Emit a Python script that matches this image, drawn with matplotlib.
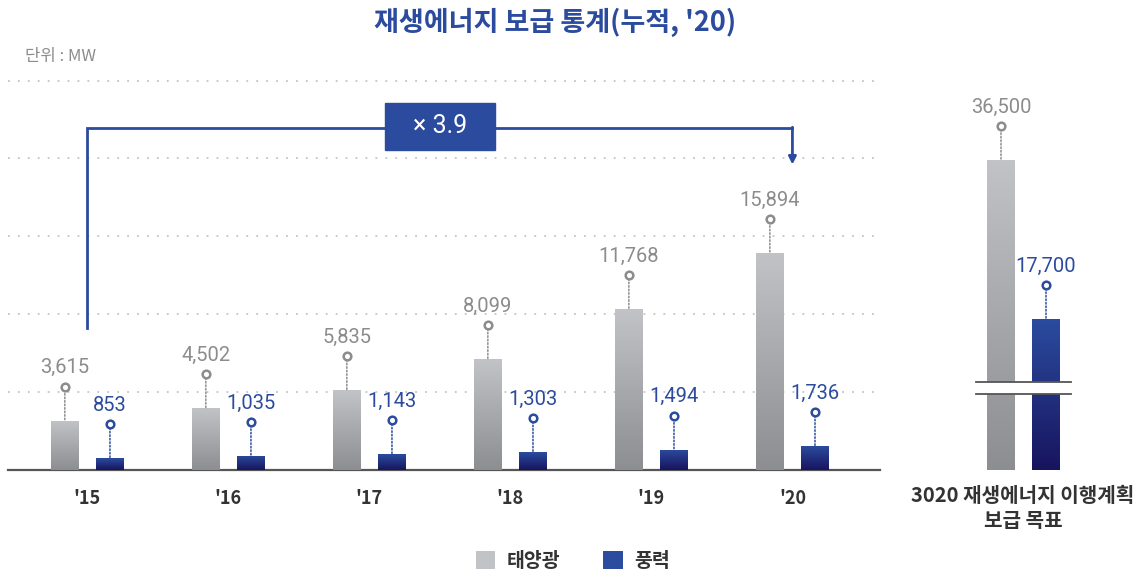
import numpy as np
import matplotlib
matplotlib.use('Agg')
from matplotlib import pyplot as plt
from matplotlib.colors import LinearSegmentedColormap
from matplotlib.patches import Rectangle, PathPatch
import matplotlib.transforms as mtransforms

# data
years = ["'15", "'16", "'17", "'18", "'19", "'20"]
solar = [3615, 4502, 5835, 8099, 11768, 15894]
wind = [853, 1035, 1143, 1303, 1494, 1736]
target_label = '3020 재생에너지 이행계획\n보급 목표'
target_solar = 36500
target_wind = 17700
growth = '× 3.9'
series_names = ['태양광', '풍력']

# style
W, H = 1137, 576
KR = ['Noto Sans CJK KR', 'DejaVu Sans']
NUM = ['Roboto', 'DejaVu Sans']
BLUE = '#2b4b9e'
GRAY_TXT = '#8c8c8c'
GRAY_TOP, GRAY_BOT = '#c2c3c6', '#8d8e91'
BLUE_TOP, BLUE_BOT = '#2b4c9f', '#18145e'

fig = plt.figure(figsize=(W / 100, H / 100), dpi=100)


def px_axes(left, top, right, bottom):
    return fig.add_axes([left / W, 1 - bottom / H, (right - left) / W, (bottom - top) / H])


def grad_fill(ax, bars, c_top, c_bot):
    cmap = LinearSegmentedColormap.from_list('g', [c_bot, c_top])
    grad = np.linspace(0, 1, 256).reshape(-1, 1)
    for b in bars:
        x0, y0 = b.get_xy()
        im = ax.imshow(grad, cmap=cmap, origin='lower', aspect='auto', interpolation='bicubic',
                       extent=[x0, x0 + b.get_width(), y0, y0 + b.get_height()], zorder=3)
        # path clip keeps the axes clip box as well
        im.set_clip_path(PathPatch(b.get_path(), transform=b.get_transform()))


def value_label(ax, x, y, color):
    ax.annotate('', xy=(x, y), xytext=(0, 24.5), textcoords='offset points',
                arrowprops=dict(arrowstyle='-', linestyle=(0, (1, 1.3)), color=color, lw=1.1,
                                shrinkA=0, shrinkB=0), annotation_clip=False)
    t_circ = mtransforms.offset_copy(ax.transData, fig=fig, y=24.5, units='points')
    ax.plot([x], [y], 'o', transform=t_circ, mfc='white', mec=color, ms=5.5, mew=1.8,
            clip_on=False, zorder=5)
    t_txt = mtransforms.offset_copy(ax.transData, fig=fig, y=38, units='points')
    ax.text(x, y, f'{y:,}', transform=t_txt, ha='center', va='center', fontsize=14.5,
            color=color, family=NUM)


def clean(ax):
    for s in ax.spines.values():
        s.set_visible(False)
    ax.set_xticks([])
    ax.set_yticks([])
    ax.patch.set_alpha(0)


# main chart
ax = px_axes(8, 60, 880, 470)
clean(ax)
xs = np.arange(len(years))
off, bw = 0.16, 0.2
gray_bars = ax.bar(xs - off, solar, bw, color=GRAY_TOP, zorder=2, label=series_names[0])
blue_bars = ax.bar(xs + off, wind, bw, color=BLUE_TOP, zorder=2, label=series_names[1])
grad_fill(ax, gray_bars, GRAY_TOP, GRAY_BOT)
grad_fill(ax, blue_bars, BLUE_TOP, BLUE_BOT)
for x, v in zip(xs - off, solar):
    value_label(ax, x, v, GRAY_TXT)
for x, v in zip(xs + off, wind):
    value_label(ax, x, v, BLUE)

for g in np.arange(1, 6) * 5700:
    ax.axhline(g, color='#c4c4c4', lw=1.3, ls=(0, (1, 4.5)), zorder=0)

ax.spines['bottom'].set_visible(True)
ax.spines['bottom'].set_color('#555555')
ax.spines['bottom'].set_linewidth(1.6)
ax.set_xticks(xs)
ax.set_xticklabels(years, fontsize=13, fontweight='bold', color='#333333', family=KR)
ax.tick_params(axis='x', length=0, pad=14)
ax.set_xlim(-0.563, 5.621)
ax.set_ylim(0, 30000)

# growth bracket
bt = mtransforms.blended_transform_factory(ax.transData, ax.transAxes)
ax.plot([xs[0], xs[0], xs[-1]], [0.346, 0.834, 0.834], color=BLUE, lw=2,
        transform=bt, clip_on=False, zorder=4, solid_joinstyle='miter')
ax.annotate('', xy=(xs[-1], 0.745), xytext=(xs[-1], 0.836), xycoords=bt, textcoords=bt,
            arrowprops=dict(arrowstyle='-|>', color=BLUE, lw=2, mutation_scale=11,
                            shrinkA=0, shrinkB=0), annotation_clip=False)
mid = (xs[0] + xs[-1]) / 2
ax.add_patch(Rectangle((mid - 0.39, 0.78), 0.78, 0.115, transform=bt, color=BLUE,
                       zorder=5, clip_on=False))
ax.text(mid, 0.838, growth, transform=bt, ha='center', va='center', color='white',
        fontsize=18, zorder=6, family=NUM)

# target panel with broken axis
ax_hi = px_axes(958.5, 60, 1088.5, 382)
ax_lo = px_axes(958.5, 394, 1088.5, 470)
for a, lim in ((ax_hi, (10250, 48310)), (ax_lo, (0, 9000))):
    clean(a)
    gb = a.bar([-0.225], [target_solar], 0.28, color=GRAY_TOP, zorder=2)
    bb = a.bar([0.225], [target_wind], 0.28, color=BLUE_TOP, zorder=2)
    grad_fill(a, gb, GRAY_TOP, GRAY_BOT)
    grad_fill(a, bb, BLUE_TOP, BLUE_BOT)
    a.set_xlim(-0.65, 0.65)
    a.set_ylim(*lim)
value_label(ax_hi, -0.225, target_solar, GRAY_TXT)
value_label(ax_hi, 0.225, target_wind, BLUE)
for a, yy in ((ax_hi, 0), (ax_lo, 1)):
    a.plot([-0.475, 0.475], [yy, yy], color='#555555', lw=1.3, clip_on=False, zorder=6,
           transform=mtransforms.blended_transform_factory(a.transData, a.transAxes))

# texts
fig.text(555 / W, 1 - 22 / H, "재생에너지 보급 통계(누적, '20)", ha='center', va='center',
         fontsize=19.5, fontweight='bold', color=BLUE, family=KR)
fig.text(25 / W, 1 - 56 / H, '단위 : MW', ha='left', va='center', fontsize=12,
         color=GRAY_TXT, family=KR)
fig.text(1023 / W, 1 - 508 / H, target_label, ha='center', va='center', fontsize=14.5,
         fontweight='bold', color='#333333', family=KR, linespacing=1.2)

fig.legend(handles=[gray_bars, blue_bars], labels=series_names, loc='center',
           bbox_to_anchor=(573 / W, 1 - 561 / H), ncol=2, frameon=False,
           prop=dict(family=KR, weight='bold', size=14), labelcolor='#333333',
           handlelength=1.0, handleheight=1.0, columnspacing=2.2, handletextpad=0.6)

fig.savefig('out.png', dpi=100)
